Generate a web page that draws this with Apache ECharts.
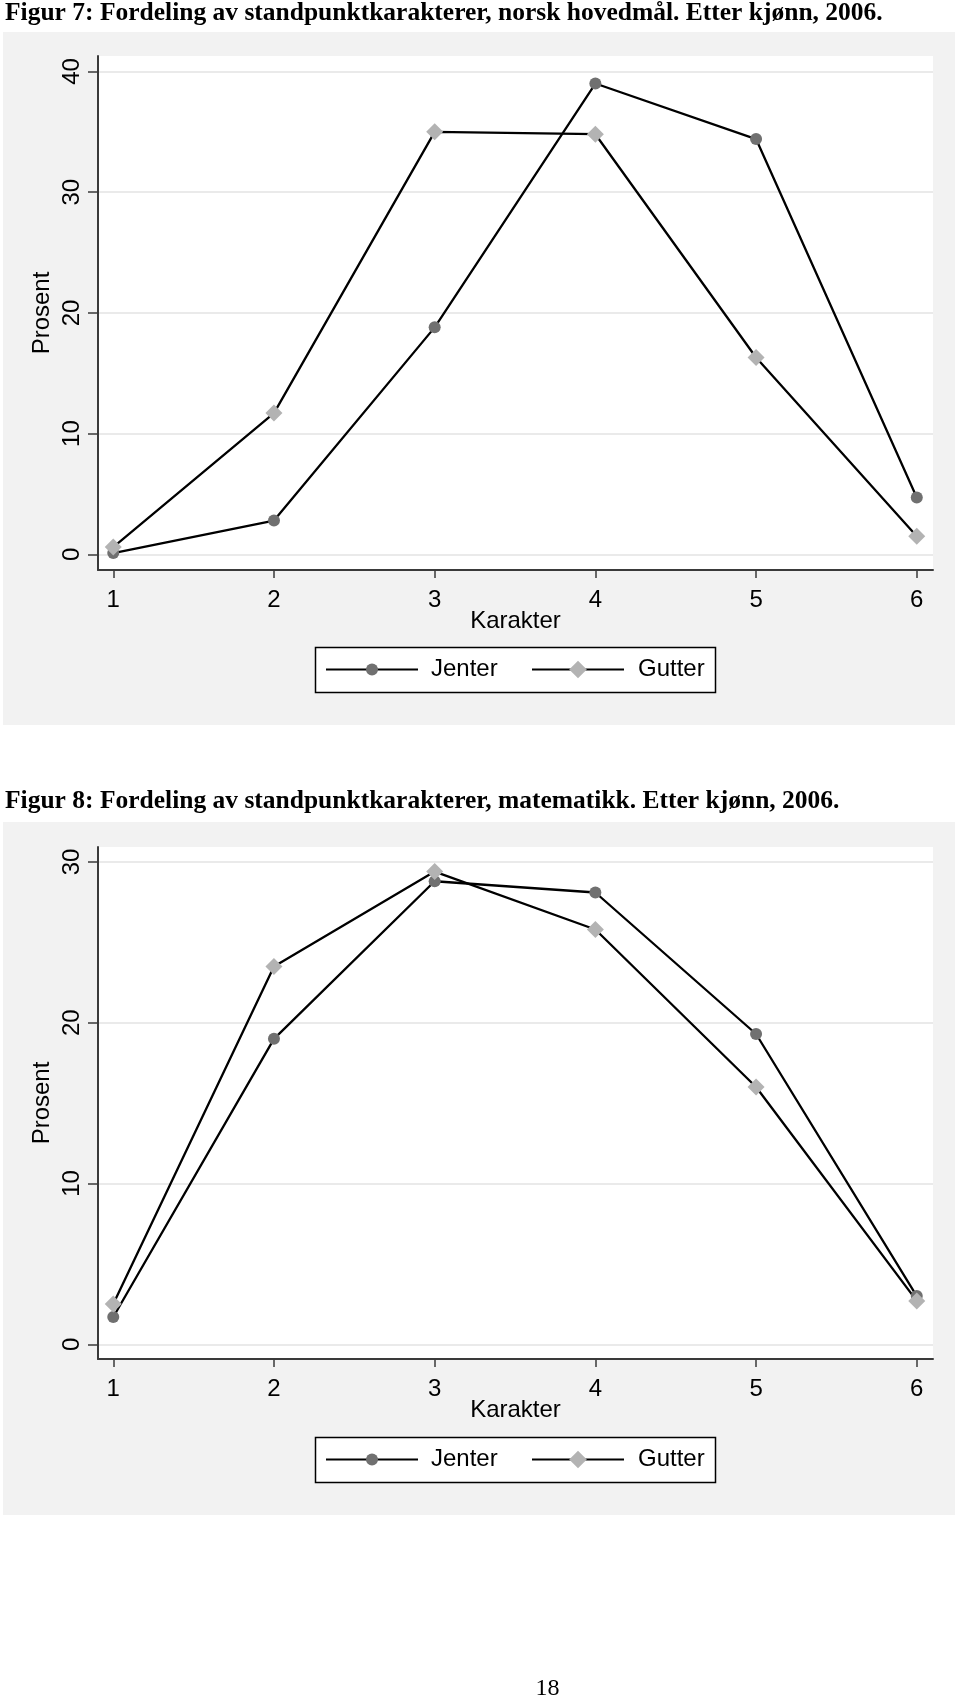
<!DOCTYPE html>
<html>
<head>
<meta charset="utf-8">
<script src="https://cdn.jsdelivr.net/npm/echarts@6/dist/echarts.min.js"></script>
<style>
html,body{margin:0;padding:0;background:#fff;}
#c{width:960px;height:1700px;}
</style>
</head>
<body>
<div id="c"></div>
<script>
// ---- data ----
var karakterer = [1, 2, 3, 4, 5, 6];
var norskJenter = [0.1, 2.8, 18.8, 39.0, 34.4, 4.7];
var norskGutter = [0.6, 11.7, 35.0, 34.8, 16.3, 1.5];
var matteJenter = [1.7, 19.0, 28.8, 28.1, 19.3, 3.0];
var matteGutter = [2.5, 23.5, 29.4, 25.8, 16.0, 2.7];
var yTicksNorsk = [0, 10, 20, 30, 40];
var yTicksMatte = [0, 10, 20, 30];
var seriesNames = ['Jenter', 'Gutter'];
var title1 = 'Figur 7: Fordeling av standpunktkarakterer, norsk hovedmål. Etter kjønn, 2006.';
var title2 = 'Figur 8: Fordeling av standpunktkarakterer, matematikk. Etter kjønn, 2006.';
var xName = 'Karakter';
var yName = 'Prosent';
var pageNo = '18';

function pairs(xs, ys) { return xs.map(function (x, i) { return [x, ys[i]]; }); }

var SANS = 'Liberation Sans, Arial, sans-serif';
var SERIF = 'Liberation Serif, Times New Roman, serif';
var AXIS_COLOR = '#3a3a3a';
var JENTER_COLOR = '#707070';
var GUTTER_COLOR = '#b3b3b3';

function xAxisCfg(gi) {
  return {
    type: 'value', gridIndex: gi, min: 0.905, max: 6.101,
    name: xName, nameLocation: 'middle', nameGap: 39, nameMoveOverlap: false,
    nameTextStyle: { fontFamily: SANS, fontSize: 24, color: '#000' },
    axisLine: { show: true, onZero: false, lineStyle: { color: AXIS_COLOR, width: 2 } },
    axisTick: { show: true, length: 8, customValues: karakterer, lineStyle: { color: AXIS_COLOR, width: 1.5 } },
    axisLabel: { customValues: karakterer, margin: 18, fontFamily: SANS, fontSize: 24, color: '#000' },
    splitLine: { show: false }
  };
}
function yAxisCfg(gi, mn, mx, ticks) {
  return {
    type: 'value', gridIndex: gi, min: mn, max: mx,
    name: yName, nameLocation: 'middle', nameGap: 44, nameRotate: 90, nameMoveOverlap: false,
    nameTextStyle: { fontFamily: SANS, fontSize: 24, color: '#000' },
    axisLine: { show: true, onZero: false, lineStyle: { color: AXIS_COLOR, width: 2 } },
    axisTick: { show: true, length: 10, customValues: ticks, lineStyle: { color: AXIS_COLOR, width: 1.5 } },
    axisLabel: { customValues: ticks, rotate: 90, margin: 14, fontFamily: SANS, fontSize: 24, color: '#000' },
    splitLine: { show: true, lineStyle: { color: '#eaeaea', width: 2 } }
  };
}
function lineSeries(name, gi, ys, symbol, size, color) {
  return {
    type: 'line', name: name, xAxisIndex: gi, yAxisIndex: gi,
    data: pairs(karakterer, ys),
    symbol: symbol, symbolSize: size, showAllSymbol: true,
    lineStyle: { color: '#000', width: 2.3 },
    itemStyle: { color: color, borderWidth: 0 },
    emphasis: { disabled: true }, animation: false, z: 3
  };
}
// one legend per item so each marker keeps its own size; the frame is drawn as a rect
function legendItem(name, left, top, iconH, textPad) {
  return {
    data: [name], left: left, top: top, orient: 'horizontal',
    itemWidth: 92, itemHeight: iconH, padding: 0,
    textStyle: { fontFamily: SANS, fontSize: 24, color: '#000', padding: [0, 0, 0, textPad] },
    selectedMode: false
  };
}

var chart = echarts.init(document.getElementById('c'), null, { renderer: 'canvas' });
chart.setOption({
  animation: false,
  title: [
    { text: title1, left: 5, top: 0, padding: 0, textStyle: { fontFamily: SERIF, fontWeight: 'bold', fontSize: 25.5, color: '#000' } },
    { text: title2, left: 5, top: 788, padding: 0, textStyle: { fontFamily: SERIF, fontWeight: 'bold', fontSize: 25.5, color: '#000' } }
  ],
  graphic: [
    { type: 'rect', z: -100, shape: { x: 3, y: 32, width: 952, height: 693 }, style: { fill: '#f2f2f2' }, silent: true },
    { type: 'rect', z: -100, shape: { x: 3, y: 822, width: 952, height: 693 }, style: { fill: '#f2f2f2' }, silent: true },
    { type: 'rect', z: -50, shape: { x: 315.5, y: 647.5, width: 400, height: 45 }, style: { fill: '#fff', stroke: '#000', lineWidth: 1.5 }, silent: true },
    { type: 'rect', z: -50, shape: { x: 315.5, y: 1437.5, width: 400, height: 45 }, style: { fill: '#fff', stroke: '#000', lineWidth: 1.5 }, silent: true },
    { type: 'text', z: 10, style: { x: 547.5, y: 1689, text: pageNo, fontFamily: SERIF, fontSize: 24, fill: '#000', align: 'center', verticalAlign: 'middle' }, silent: true }
  ],
  grid: [
    { left: 98, top: 56, width: 835, height: 514, show: true, backgroundColor: '#fff', borderWidth: 0 },
    { left: 98, top: 847, width: 835, height: 512, show: true, backgroundColor: '#fff', borderWidth: 0 }
  ],
  xAxis: [xAxisCfg(0), xAxisCfg(1)],
  yAxis: [yAxisCfg(0, -1.3, 41.28, yTicksNorsk), yAxisCfg(1, -0.914, 30.93, yTicksMatte)],
  legend: [
    legendItem(seriesNames[0], 325, 657.5, 15, 8),
    legendItem(seriesNames[1], 531, 657.5, 22, 9),
    legendItem(seriesNames[0], 325, 1447.5, 15, 8),
    legendItem(seriesNames[1], 531, 1447.5, 22, 9)
  ],
  series: [
    lineSeries(seriesNames[0], 0, norskJenter, 'circle', 12, JENTER_COLOR),
    lineSeries(seriesNames[1], 0, norskGutter, 'diamond', 17, GUTTER_COLOR),
    lineSeries(seriesNames[0], 1, matteJenter, 'circle', 12, JENTER_COLOR),
    lineSeries(seriesNames[1], 1, matteGutter, 'diamond', 17, GUTTER_COLOR)
  ]
});
</script>
</body>
</html>
